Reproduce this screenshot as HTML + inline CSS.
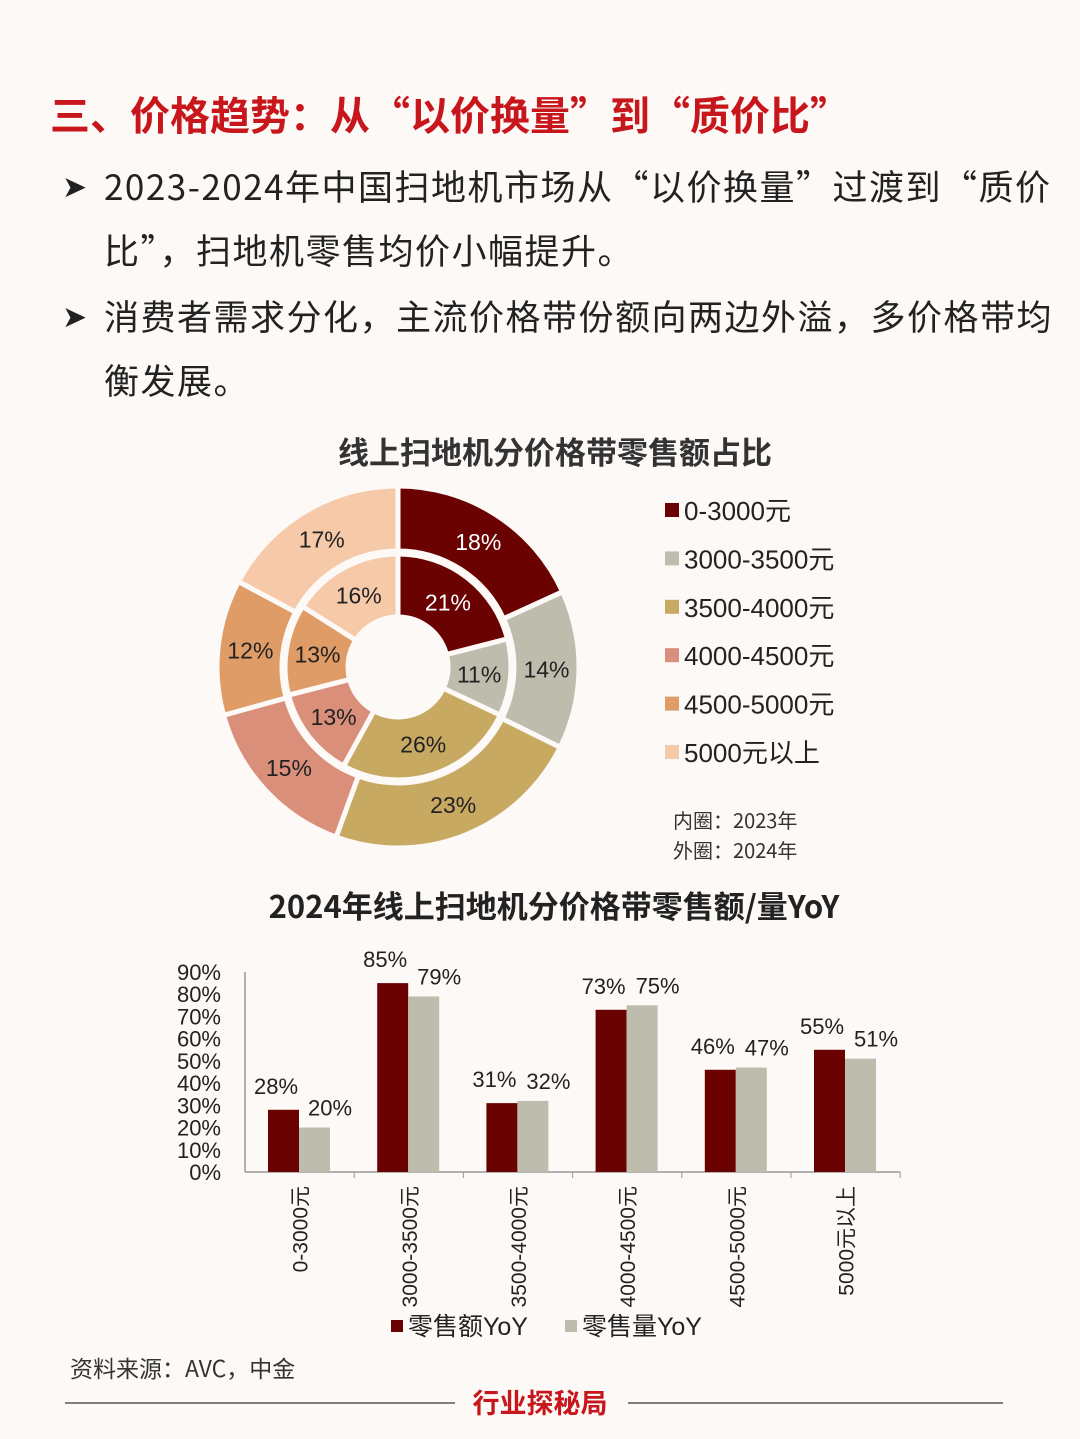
<!DOCTYPE html>
<html><head><meta charset="utf-8"><style>
body{margin:0;width:1080px;height:1439px;background:#fcf9f6;font-family:"Liberation Sans","Noto Sans CJK SC",sans-serif;position:relative;overflow:hidden;color:#222}
.abs{position:absolute}
h1{position:absolute;left:50px;top:84px;margin:0;font-size:40px;font-weight:bold;color:#c8161d;font-family:"Noto Sans CJK SC",sans-serif}
.p{position:absolute;left:104px;font-size:35px;line-height:64px;color:#222;font-family:"Noto Sans CJK SC",sans-serif;width:950px;letter-spacing:1.5px}
.arrow{position:absolute;left:62px;font-size:30px}
</style></head><body>
<h1>三、价格趋势：从“以价换量”到“质价比”</h1>
<div class="arrow" style="top:170px">➤</div>
<div class="p" style="top:154px">2023-2024年中国扫地机市场从“以价换量”过渡到“质价比”，扫地机零售均价小幅提升。</div>
<div class="arrow" style="top:300px">➤</div>
<div class="p" style="top:284px">消费者需求分化，主流价格带份额向两边外溢，多价格带均衡发展。</div>

<svg class="abs" style="left:0;top:0" width="1080" height="1439">
<text x="555" y="464" text-anchor="middle" font-size="31" font-weight="bold" fill="#333" font-family="Noto Sans CJK SC">线上扫地机分价格带零售额占比</text>
<g id="donut"></g>
<g id="legend"></g>
<text x="673" y="828" font-size="20" fill="#333" font-family="Noto Sans CJK SC">内圈：2023年</text>
<text x="673" y="858" font-size="20" fill="#333" font-family="Noto Sans CJK SC">外圈：2024年</text>
<text x="554" y="918" text-anchor="middle" font-size="31" font-weight="bold" fill="#222" font-family="Noto Sans CJK SC">2024年线上扫地机分价格带零售额/量YoY</text>
<g id="bars"></g>
<text x="70" y="1377" font-size="23" fill="#333" font-family="Noto Sans CJK SC">资料来源：AVC，中金</text>
<line x1="65" y1="1403" x2="455" y2="1403" stroke="#555" stroke-width="1.5"/>
<line x1="628" y1="1403" x2="1003" y2="1403" stroke="#555" stroke-width="1.5"/>
<text x="540" y="1413" text-anchor="middle" font-size="27" font-weight="bold" fill="#c8161d" font-family="Noto Sans CJK SC">行业探秘局</text>
</svg>
<script>
const segNames=["0-3000元","3000-3500元","3500-4000元","4000-4500元","4500-5000元","5000元以上"];
const inner2023=[21,11,26,13,13,16];
const outer2024=[18,14,23,15,12,17];
const barCats=["0-3000元","3000-3500元","3500-4000元","4000-4500元","4500-5000元","5000元以上"];
const salesYoY=[28,85,31,73,46,55];
const volYoY=[20,79,32,75,47,51];
const yTicks=[0,10,20,30,40,50,60,70,80,90];
const colors=["#6a0202","#bdbcad","#c7a962","#da8f7b","#df9c66","#f6c9a9"];
const NS="http://www.w3.org/2000/svg";
function mk(t,a,p){const e=document.createElementNS(NS,t);for(const k in a)e.setAttribute(k,a[k]);p.appendChild(e);return e;}
const cx=398,cy=667;
function ring(vals,r0,r1,g,name){
 const tot=vals.reduce((a,b)=>a+b,0);let a=0;
 vals.forEach((v,i)=>{
  const a0=a/tot*2*Math.PI,a1=(a+v)/tot*2*Math.PI;a+=v;
  const P=(r,t)=>[cx+r*Math.sin(t),cy-r*Math.cos(t)];
  const [x0,y0]=P(r1,a0),[x1,y1]=P(r1,a1),[x2,y2]=P(r0,a1),[x3,y3]=P(r0,a0);
  const lg=(a1-a0)>Math.PI?1:0;
  const p=mk("path",{d:`M${x0},${y0}A${r1},${r1} 0 ${lg} 1 ${x1},${y1}L${x2},${y2}A${r0},${r0} 0 ${lg} 0 ${x3},${y3}Z`,fill:colors[i],stroke:"#fcf9f6","stroke-width":5},g);
  
  
  const [tx,ty]=P((r0+r1)/2,(a0+a1)/2);
  const t=mk("text",{x:tx,y:ty+8,"text-anchor":"middle","font-size":23,fill:i==0?"#fff":"#222"},g);
  t.textContent=v+"%";
  
  
 });
}
const dg=document.getElementById("donut");
ring(outer2024,116,181,dg,"outer-2024");
ring(inner2023,50,113,dg,"inner-2023");
const lg=document.getElementById("legend");
segNames.forEach((n,i)=>{
 const y=511+i*48.4;
 const r=mk("rect",{x:665,y:y-8,width:14,height:14,fill:colors[i]},lg);
 
 
 const t=mk("text",{x:684,y:y+9,"font-size":26,fill:"#222"},lg);t.textContent=n;
 
 
});
const bg=document.getElementById("bars");
const X0=245,Y0=1172,pxPer=200/90,cw=109.2;
const yOf=v=>Y0-v*pxPer;
const ax=mk("line",{x1:X0,y1:yOf(90),x2:X0,y2:Y0,stroke:"#999","stroke-width":1.5},bg);

const xa=mk("line",{x1:X0,y1:Y0,x2:X0+cw*6,y2:Y0,stroke:"#999","stroke-width":1.5},bg);

yTicks.forEach(v=>{const t=mk("text",{x:221,y:yOf(v)+8,"text-anchor":"end","font-size":22,fill:"#222"},bg);t.textContent=v+"%";
 });
barCats.forEach((c,i)=>{
 const x=X0+i*cw;
 const tk=mk("line",{x1:x+cw,y1:Y0,x2:x+cw,y2:Y0+6,stroke:"#999"},bg);
 
 [[salesYoY[i],"#6a0202",x+23,'bar-sales'],[volYoY[i],"#bdbcad",x+54,'bar-volume']].forEach(([v,col,bx,nm],k)=>{
  const r=mk("rect",{x:bx,y:yOf(v),width:31,height:v*pxPer,fill:col},bg);
  
  const t=mk("text",{x:bx+(k?31:8),y:yOf(v)-(k?12:16),"text-anchor":"middle","font-size":22,fill:"#222"},bg);
  t.textContent=v+"%";
  
 });
 const t=mk("text",{x:0,y:0,"font-size":21,fill:"#222","text-anchor":"end",transform:`translate(${x+cw/2+8},1186) rotate(-90)`},bg);
 t.textContent=c;
 
});
[["零售额YoY","#6a0202",391],["零售量YoY","#bdbcad",565]].forEach(([n,c,x])=>{
 const r=mk("rect",{x:x,y:1320,width:12,height:12,fill:c},bg);
 
 const t=mk("text",{x:x+17,y:1335,"font-size":25,fill:"#222"},bg);t.textContent=n;
 
});
</script>
</body></html>
